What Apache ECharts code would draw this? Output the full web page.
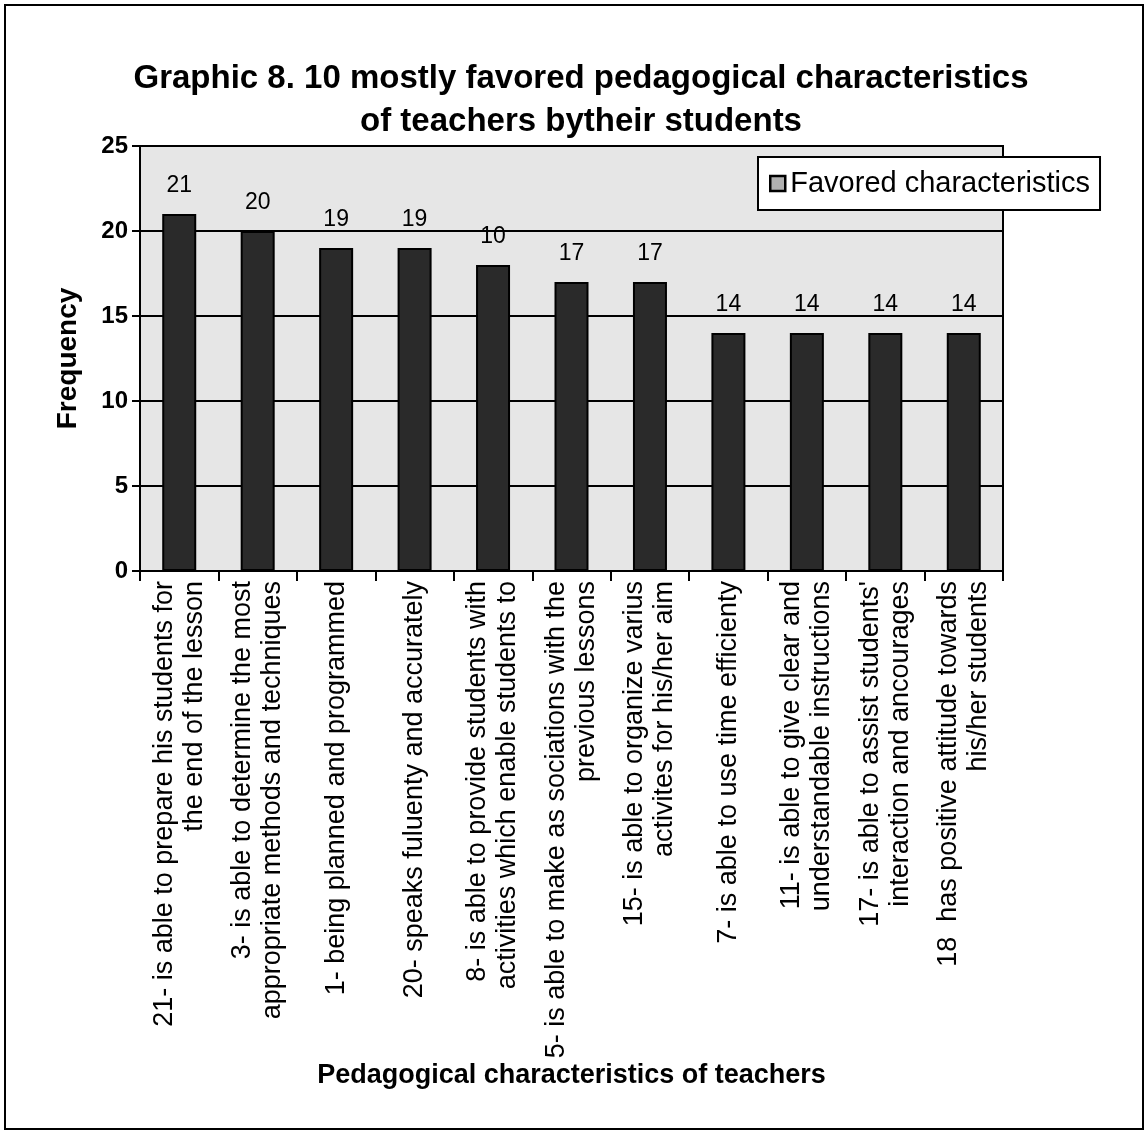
<!DOCTYPE html>
<html>
<head>
<meta charset="utf-8">
<title>Graphic 8</title>
<script src="https://cdn.jsdelivr.net/npm/echarts@6/dist/echarts.min.js"></script>
<style>
    html, body { margin: 0; padding: 0; background: #fff; }
    #chart_main { width: 1147px; height: 1137px; }
</style>
</head>
<body>
<div id="chart_main"></div>
<script>
var categories = [
    "21- is able to prepare his students for\nthe end of the lesson",
    "3- is able to determine the most\nappropriate methods and techniques",
    "1- being planned and programmed",
    "20- speaks fuluenty and accurately",
    "8- is able to provide students with\nactivities which enable students to",
    "5- is able to make as sociations with the\nprevious lessons",
    "15- is able to organize varius\nactivites for his/her aim",
    "7- is able to use time efficienty",
    "11- is able to give clear and\nunderstandable instructions",
    "17- is able to assist students'\ninteraction and ancourages",
    "18  has positive attitude towards\nhis/her students"
];
// bar heights as drawn
var barValues = [21, 20, 19, 19, 18, 17, 17, 14, 14, 14, 14];
// labels as printed on the chart (the fifth one reads 10 in the original)
var barLabels = ["21", "20", "19", "19", "10", "17", "17", "14", "14", "14", "14"];
var yTicks = [0, 5, 10, 15, 20, 25];

var fontName = "Liberation Sans, Arial, sans-serif";

var chart_main = echarts.init(document.getElementById("chart_main"));

var option = {
    backgroundColor: "#ffffff",
    animation: false,
    title: {
        text: "Graphic 8. 10 mostly favored pedagogical characteristics\nof teachers bytheir students",
        left: 576,
        top: 52,
        textAlign: "center",
        textStyle: {
            fontFamily: fontName,
            fontSize: 33,
            fontWeight: "bold",
            color: "#000",
            lineHeight: 43
        }
    },
    legend: {
        left: 758,
        top: 157,
        itemWidth: 15,
        itemHeight: 15,
        padding: [12, 10, 12, 11],
        borderColor: "#000",
        borderWidth: 2,
        backgroundColor: "#ffffff",
        textStyle: {
            fontFamily: fontName,
            fontSize: 29,
            color: "#000"
        },
        data: [{
            name: "Favored characteristics",
            icon: "rect",
            itemStyle: { color: "#b0b0b0", borderColor: "#000", borderWidth: 2.5 }
        }]
    },
    grid: {
        left: 140,
        right: 144,
        top: 146,
        bottom: 566,
        show: true,
        backgroundColor: "#e6e6e6",
        borderColor: "#000",
        borderWidth: 2
    },
    xAxis: {
        type: "category",
        data: categories,
        name: "Pedagogical characteristics of teachers",
        nameLocation: "middle",
        nameGap: 490,
        nameTextStyle: {
            fontFamily: fontName,
            fontSize: 27,
            fontWeight: "bold",
            color: "#000"
        },
        axisLine: { lineStyle: { color: "#000", width: 2 } },
        axisTick: { show: true, length: 10, lineStyle: { color: "#000", width: 2 } },
        axisLabel: {
            interval: 0,
            rotate: 90,
            margin: 10,
            fontFamily: fontName,
            fontSize: 27,
            lineHeight: 30,
            color: "#000"
        }
    },
    yAxis: {
        type: "value",
        min: yTicks[0],
        max: yTicks[yTicks.length - 1],
        interval: 5,
        name: "Frequency",
        nameLocation: "middle",
        nameGap: 58,
        nameTextStyle: {
            fontFamily: fontName,
            fontSize: 28,
            fontWeight: "bold",
            color: "#000"
        },
        axisLine: { show: true, lineStyle: { color: "#000", width: 2 } },
        axisTick: { show: true, length: 8, lineStyle: { color: "#000", width: 2 } },
        axisLabel: {
            margin: 12,
            fontFamily: fontName,
            fontSize: 24,
            fontWeight: "bold",
            color: "#000"
        },
        splitLine: { show: true, lineStyle: { color: "#000", width: 2 } }
    },
    series: [{
        name: "Favored characteristics",
        type: "bar",
        data: barValues,
        barWidth: 34,
        itemStyle: {
            color: "#2a2a2a",
            borderColor: "#000",
            borderWidth: 2
        },
        label: {
            show: true,
            position: "top",
            distance: 17,
            fontFamily: fontName,
            fontSize: 23,
            color: "#000",
            formatter: function (p) {
                return barLabels[p.dataIndex];
            }
        }
    }],
    graphic: [{
        type: "rect",
        shape: { x: 5, y: 5, width: 1138, height: 1124 },
        style: { fill: null, stroke: "#000", lineWidth: 2 },
        silent: true
    }]
};

chart_main.setOption(option);
</script>
</body>
</html>
